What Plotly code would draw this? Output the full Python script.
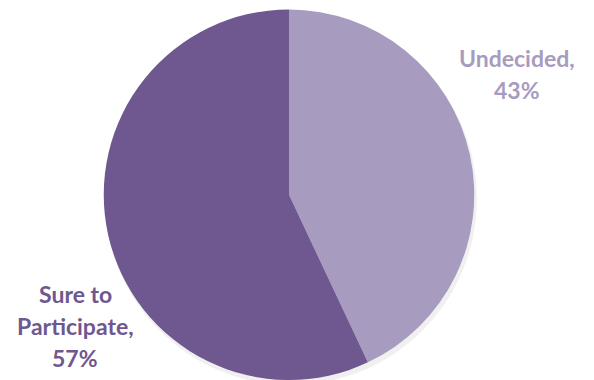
import plotly.graph_objects as go

# Survey responses
categories = ["Undecided", "Sure to Participate"]
shares = [43, 57]
colors = ["#A89BC0", "#6F578F"]

W, H = 594, 380

fig = go.Figure()

# soft drop shadow behind the pie
fig.add_shape(type="circle", xref="paper", yref="paper",
              x0=(289 - 186 + 2) / W, x1=(289 + 186 + 2) / W,
              y0=1 - (196 + 186 + 3) / H, y1=1 - (196 - 186 + 3) / H,
              fillcolor="rgba(0,0,0,0.06)", line=dict(width=0), layer="below")

fig.add_trace(go.Pie(
    labels=categories,
    values=shares,
    sort=False,
    direction="clockwise",
    rotation=0,
    marker=dict(colors=colors, line=dict(width=0)),
    textinfo="none",
    hoverinfo="label+percent",
    domain=dict(x=[(289 - 186) / W, (289 + 186) / W], y=[0.0, 0.975]),
    showlegend=False,
))

# outside labels, one line per annotation
label_lines = [
    [f"{categories[0]},", f"{shares[0]}%"],
    ["Sure to", "Participate,", f"{shares[1]}%"],
]
anchors = [(517, 58), (75, 294)]
line_gap = 32
for lines, (cx, cy), col in zip(label_lines, anchors, colors):
    for i, line in enumerate(lines):
        fig.add_annotation(
            x=cx / W, y=1 - (cy + i * line_gap) / H, xref="paper", yref="paper",
            text=f"<b>{line}</b>", showarrow=False, xanchor="center", yanchor="middle",
            font=dict(family="Lato", size=23, color=col),
        )

fig.update_layout(
    width=W, height=H,
    margin=dict(l=0, r=0, t=0, b=0),
    paper_bgcolor="white", plot_bgcolor="white",
)

fig.write_html("out.html")
